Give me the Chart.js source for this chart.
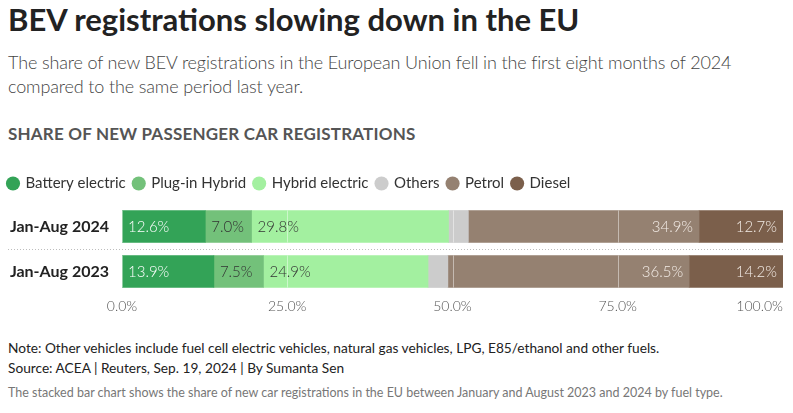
<!DOCTYPE html>
<html>
<head>
<meta charset="utf-8">
<script src="https://cdn.jsdelivr.net/npm/chart.js@4"></script>
<style>
    body { margin: 0; background: #fff; font-family: Lato, sans-serif; width: 793px; height: 413px; overflow: hidden; position: relative; }
    .t { position: absolute; left: 8px; white-space: nowrap; }
    #titulo { top: 0px; font-size: 31px; font-weight: 700; color: #222; }
    #sub { top: 50px; font-size: 18px; font-weight: 300; color: #444; line-height: 24px; letter-spacing: -0.14px; }
    #secao { top: 123px; font-size: 17px; font-weight: 700; color: #555; letter-spacing: 0.2px; }
    #nota { top: 338px; font-size: 13.7px; color: #222; line-height: 20px; }
    #desc { top: 385px; font-size: 12.5px; color: #777; }
    #box { position: absolute; left: 0; top: 168px; width: 793px; height: 156px; }
</style>
</head>
<body>
<div class="t" id="titulo">BEV registrations slowing down in the EU</div>
<div class="t" id="sub">The share of new BEV registrations in the European Union fell in the first eight months of 2024<br>compared to the same period last year.</div>
<div class="t" id="secao">SHARE OF NEW PASSENGER CAR REGISTRATIONS</div>
<div id="box"><canvas id="grafico"></canvas></div>
<div class="t" id="nota">Note: Other vehicles include fuel cell electric vehicles, natural gas vehicles, LPG, E85/ethanol and other fuels.<br>Source: ACEA | Reuters, Sep. 19, 2024 | By Sumanta Sen</div>
<div class="t" id="desc">The stacked bar chart shows the share of new car registrations in the EU between January and August 2023 and 2024 by fuel type.</div>

<script>
// dados
const periodos = ['Jan-Aug 2024', 'Jan-Aug 2023']
const tipos = ['Battery electric', 'Plug-in Hybrid', 'Hybrid electric', 'Others', 'Petrol', 'Diesel']
const battery = [12.6, 13.9]
const plugin = [7.0, 7.5]
const hybrid = [29.8, 24.9]
const others = [3.0, 3.0]
const petrol = [34.9, 36.5]
const diesel = [12.7, 14.2]
const ticksX = [0, 25, 50, 75, 100]

const cores = ['#33a357', '#73c17a', '#a3f0a0', '#cccccc', '#958171', '#7b5f4b']
const corTexto = ['#ffffff', '#333333', '#333333', null, '#f3ece6', '#f3ece6']
const alinhar = ['left', 'left', 'left', null, 'right', 'right']
const series = [battery, plugin, hybrid, others, petrol, diesel]

// um pouco mais de espaço abaixo da legenda
const espacoLegenda = {
    id: 'espacoLegenda',
    beforeInit(chart) {
        const fitOriginal = chart.legend.fit
        chart.legend.fit = function () {
            fitOriginal.bind(chart.legend)()
            this.height += 3
        }
    }
}

// grade branca por cima das barras, separador pontilhado e rótulos
const extras = {
    id: 'extras',
    afterDatasetsDraw(chart) {
        const { ctx, chartArea, scales: { x, y } } = chart
        const meta0 = chart.getDatasetMeta(0)
        ctx.save()
        ctx.strokeStyle = 'rgba(255,255,255,0.45)'
        ctx.lineWidth = 1
        meta0.data.forEach(bar => {
            const h = bar.height / 2
            ticksX.forEach(v => {
                const px = Math.round(x.getPixelForValue(v)) + 0.5
                ctx.beginPath()
                ctx.moveTo(px, bar.y - h)
                ctx.lineTo(px, bar.y + h)
                ctx.stroke()
            })
        })

        // separador
        const ym = Math.round((y.getPixelForValue(0) + y.getPixelForValue(1)) / 2) + 0.5
        ctx.strokeStyle = '#bdbdbd'
        ctx.setLineDash([1, 2])
        ctx.beginPath()
        ctx.moveTo(8, ym)
        ctx.lineTo(chartArea.right, ym)
        ctx.stroke()
        ctx.setLineDash([])

        // rótulos das barras
        ctx.font = '300 15px Lato'
        ctx.textBaseline = 'middle'
        chart.data.datasets.forEach((ds, i) => {
            if (!corTexto[i]) return
            chart.getDatasetMeta(i).data.forEach((bar, j) => {
                const txt = ds.data[j].toFixed(1) + '%'
                const ini = Math.min(bar.x, bar.base)
                const fim = Math.max(bar.x, bar.base)
                ctx.fillStyle = corTexto[i]
                ctx.textAlign = alinhar[i]
                ctx.fillText(txt, alinhar[i] === 'left' ? ini + 6 : fim - 6, bar.y + 1)
            })
        })

        // rótulos do eixo x
        ctx.font = '300 14px Lato'
        ctx.fillStyle = '#555'
        ticksX.forEach((v, k) => {
            const px = x.getPixelForValue(v)
            ctx.textAlign = k === ticksX.length - 1 ? 'right' : 'center'
            ctx.fillText(v.toFixed(1) + '%', px, chartArea.bottom + 12)
        })
        ctx.restore()
    }
}

new Chart(document.getElementById('grafico'), {
    type: 'bar',
    data: {
        labels: periodos,
        datasets: tipos.map((t, i) => ({
            label: t,
            data: series[i],
            backgroundColor: cores[i],
            borderWidth: 0,
            barThickness: 32,
        }))
    },
    options: {
        indexAxis: 'y',
        responsive: true,
        maintainAspectRatio: false,
        animation: false,
        layout: { padding: { left: 0, right: 10, bottom: 22 } },
        plugins: {
            legend: {
                position: 'top',
                align: 'start',
                labels: {
                    usePointStyle: true,
                    pointStyle: 'circle',
                    boxWidth: 10,
                    boxHeight: 10,
                    padding: 8,
                    color: '#333',
                    font: { family: 'Lato', size: 15 }
                }
            },
            tooltip: { enabled: false }
        },
        scales: {
            x: {
                stacked: true,
                min: 0,
                max: 100,
                ticks: { display: false, stepSize: 25 },
                grid: { display: false },
                border: { display: false }
            },
            y: {
                stacked: true,
                afterFit(scale) { scale.width = 122 },
                ticks: { color: '#222', padding: 5, font: { family: 'Lato', size: 16, weight: 'bold' } },
                grid: { display: false },
                border: { display: false }
            }
        }
    },
    plugins: [espacoLegenda, extras]
})
</script>
</body>
</html>
